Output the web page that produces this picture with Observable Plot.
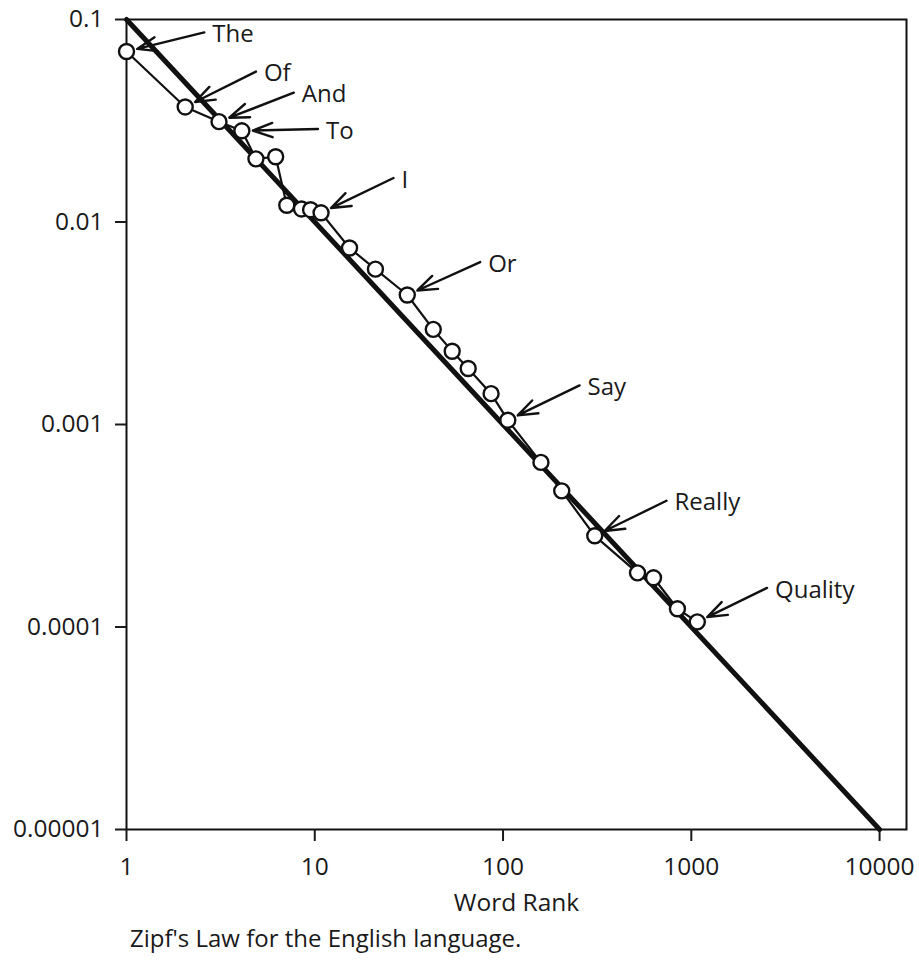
<!DOCTYPE html>
<html>
<head>
<meta charset="utf-8">
<script src="https://cdn.jsdelivr.net/npm/d3@7"></script>
<script src="https://cdn.jsdelivr.net/npm/@observablehq/plot@0.6"></script>
<style>
  html, body { margin: 0; padding: 0; background: #fff; }
  figure { margin: 0; }
  figcaption { font-family: "Open Sans", sans-serif; font-size: 24px; color: #1a1a1a; padding-left: 130px; margin-top: 0px; line-height: 1.3; }
  svg text { font-family: "Open Sans", sans-serif; }
</style>
</head>
<body>
<div id="chart"></div>
<script>
// Observed word ranks and relative frequencies
const ranks = [1, 2.05, 3.1, 4.1, 4.87, 6.2, 7.1, 8.5, 9.5, 10.8, 15.3, 21, 31, 42.6, 53.7, 65.3, 86.4, 106, 159, 205, 307, 518, 630, 844, 1076];
const freqs = [0.0695, 0.037, 0.0313, 0.0282, 0.0205, 0.021, 0.0121, 0.0116, 0.0115, 0.0111, 0.00744, 0.00585, 0.00436, 0.00295, 0.0023, 0.00189, 0.00142, 0.00105, 0.00065, 0.00047, 0.000282, 0.000185, 0.000175, 0.000123, 0.000106];

// Ideal Zipf line endpoints
const zipfRanks = [1, 10000];
const zipfFreqs = [0.1, 0.00001];

// Annotated words: which point, and where the label sits (data units)
const words = ["The", "Of", "And", "To", "I", "Or", "Say", "Really", "Quality"];
const wordPoint = [0, 1, 2, 3, 9, 12, 17, 20, 24];
const labelRank = [2.59, 4.87, 7.74, 10.4, 26.2, 75.6, 255, 738, 2524];
const labelFreq = [0.0863, 0.0553, 0.0435, 0.0288, 0.0165, 0.00634, 0.00156, 0.00042, 0.000156];

// Tick values and labels
const xTicks = [1, 10, 100, 1000, 10000];
const xTickLabels = ["1", "10", "100", "1000", "10000"];
const yTicks = [0.1, 0.01, 0.001, 0.0001, 0.00001];
const yTickLabels = ["0.1", "0.01", "0.001", "0.0001", "0.00001"];

const points = ranks.map((r, i) => ({rank: r, freq: freqs[i]}));
const zipf = zipfRanks.map((r, i) => ({rank: r, freq: zipfFreqs[i]}));
const notes = words.map((w, i) => ({
  word: w,
  lx: labelRank[i], ly: labelFreq[i],
  px: ranks[wordPoint[i]], py: freqs[wordPoint[i]]
}));

const chart = Plot.plot({
  width: 919,
  height: 922,
  marginLeft: 126,
  marginRight: 13,
  marginTop: 19,
  marginBottom: 93,
  style: {fontSize: "24px", color: "#1a1a1a", background: "#fff"},
  caption: "Zipf's Law for the English language.",
  x: {type: "log", domain: [1, 13900]},
  y: {type: "log", domain: [0.00001, 0.1]},
  marks: [
    Plot.frame({stroke: "#111", strokeWidth: 2}),
    Plot.axisX({
      ticks: xTicks,
      tickFormat: d => xTickLabels[xTicks.indexOf(d)],
      tickSize: 12, tickPadding: 16, strokeWidth: 2,
      fontSize: 24.5,
      label: "Word Rank", labelAnchor: "center", labelArrow: "none", labelOffset: 81
    }),
    Plot.axisY({
      ticks: yTicks,
      tickFormat: d => yTickLabels[yTicks.indexOf(d)],
      tickSize: 11, tickPadding: 12, strokeWidth: 2,
      fontSize: 24.5,
      label: null
    }),
    Plot.line(zipf, {x: "rank", y: "freq", stroke: "#111", strokeWidth: 5}),
    Plot.line(points, {x: "rank", y: "freq", stroke: "#111", strokeWidth: 2.2}),
    Plot.dot(points, {x: "rank", y: "freq", r: 7.5, fill: "#fff", stroke: "#111", strokeWidth: 2.4}),
    Plot.arrow(notes, {x1: "lx", y1: "ly", x2: "px", y2: "py", insetEnd: 11, headLength: 13, headAngle: 40, stroke: "#111", strokeWidth: 2.4}),
    Plot.text(notes, {x: "lx", y: "ly", text: "word", textAnchor: "start", dx: 8, dy: 2, fontSize: 24, fill: "#1a1a1a"})
  ]
});
document.getElementById("chart").appendChild(chart);
</script>
</body>
</html>
